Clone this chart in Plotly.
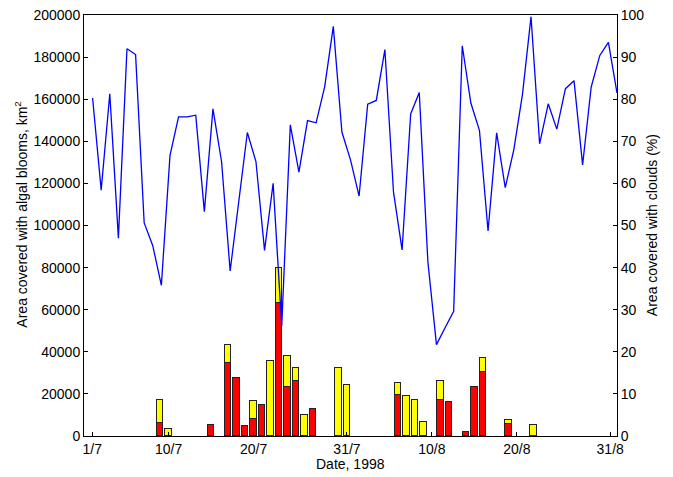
import plotly.graph_objects as go

# Day numbers (1 = 1 July 1998)
bar_days = [9, 10, 15, 17, 18, 19, 20, 21, 22, 23, 24, 25, 26, 27, 30, 31,
            37, 38, 39, 40, 42, 43, 45, 46, 47, 50, 53]
red_vals = [6000, 0, 5300, 34700, 27400, 4700, 8000, 14800, 0, 63400, 23200, 26000, 0, 12900, 0, 0,
            19600, 0, 0, 0, 16900, 16000, 2100, 23200, 30200, 5800, 0]
yellow_vals = [11000, 3500, 0, 8400, 0, 0, 8400, 0, 35800, 16200, 15000, 6500, 9900, 0, 32300, 24400,
               5400, 19100, 16900, 6800, 9400, 0, 0, 0, 6800, 1600, 5000]

cloud_index = list(range(1, 63))
cloud_pct = [80.3, 58.4, 81.3, 47.0, 92.0, 90.6, 50.6, 45.2, 35.8, 66.6,
             75.8, 75.8, 76.2, 53.3, 77.7, 65.2, 39.2, 55.7, 72.1, 65.2,
             44.1, 60.0, 26.1, 73.9, 62.7, 74.9, 74.4, 83.0, 97.3, 72.2,
             65.6, 57.0, 78.8, 79.7, 91.8, 58.0, 44.2, 76.5, 81.6, 41.4,
             21.7, 25.7, 29.6, 92.7, 79.1, 72.6, 48.7, 72.0, 59.0, 68.0,
             81.1, 99.6, 69.4, 78.9, 72.9, 82.5, 84.4, 64.4, 82.9, 90.4,
             93.5, 81.5]

tick_days = [1, 10, 20, 31, 41, 51, 62]
tick_text = ["1/7", "10/7", "20/7", "31/7", "10/8", "20/8", "31/8"]

left_ticks = list(range(0, 200001, 20000))
right_ticks = list(range(0, 101, 10))

x_title = "Date, 1998"
left_title = "Area covered with algal blooms, km<sup>2</sup>"
right_title = "Area covered with clouds (%)"

FONT = "Liberation Sans, Arial, Helvetica, sans-serif"
FS = 14
edge = dict(color="#222222", width=1)

fig = go.Figure()
fig.add_trace(go.Bar(x=bar_days, y=red_vals, marker=dict(color="#FF0000", line=edge),
                     width=0.78, xaxis="x", yaxis="y", showlegend=False))
fig.add_trace(go.Bar(x=bar_days, y=yellow_vals, marker=dict(color="#FFFF00", line=edge),
                     width=0.78, xaxis="x", yaxis="y", showlegend=False))
fig.add_trace(go.Scatter(x=cloud_index, y=cloud_pct, mode="lines",
                         line=dict(color="#0000FF", width=1.3),
                         xaxis="x2", yaxis="y2", showlegend=False))

axis_common = dict(showgrid=False, zeroline=False, showline=True, linecolor="black", linewidth=1,
                   ticks="inside", ticklen=4, tickcolor="black", tickwidth=1, automargin=False,
                   tickfont=dict(family=FONT, size=FS, color="black"))

fig.update_layout(
    width=673, height=477,
    margin=dict(l=84, r=56, t=15, b=41),
    paper_bgcolor="white", plot_bgcolor="white",
    barmode="stack", bargap=0,
    font=dict(family=FONT, size=FS, color="black"),
    xaxis=dict(range=[0.03, 62.8], tickmode="array", tickvals=tick_days, ticktext=tick_text,
               mirror=True, **axis_common),
    xaxis2=dict(range=[0, 62], overlaying="x", visible=False, anchor="y2"),
    yaxis=dict(range=[0, 200000], tickmode="array", tickvals=left_ticks,
               ticktext=[str(v) for v in left_ticks], **axis_common),
    yaxis2=dict(range=[0, 100], overlaying="y", side="right", anchor="x2",
                tickmode="array", tickvals=right_ticks, **axis_common),
    annotations=[
        dict(text=x_title, xref="paper", yref="paper", x=0.5, y=-0.0665,
             xanchor="center", yanchor="middle", showarrow=False,
             font=dict(family=FONT, size=FS, color="black")),
        dict(text=left_title, xref="paper", yref="paper", x=-0.1188, y=0.525,
             xanchor="center", yanchor="middle", textangle=-90, showarrow=False,
             font=dict(family=FONT, size=FS, color="black")),
        dict(text=right_title, xref="paper", yref="paper", x=1.065, y=0.5,
             xanchor="center", yanchor="middle", textangle=-90, showarrow=False,
             font=dict(family=FONT, size=FS, color="black")),
    ],
)

fig.write_html("out.html")
